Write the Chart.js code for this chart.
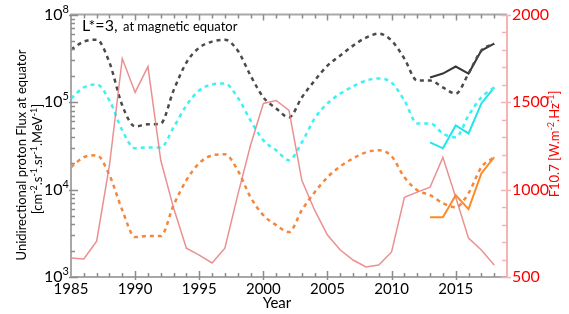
<!DOCTYPE html>
<html>
<head>
<meta charset="utf-8">
<script src="https://cdn.jsdelivr.net/npm/chart.js@4.4.0/dist/chart.umd.min.js"></script>
<style>
  html, body { margin: 0; padding: 0; background: #fff; }
  #wrap { width: 569px; height: 314px; }
</style>
</head>
<body>
<div id="wrap"><canvas id="chart" width="569" height="314"></canvas></div>
<script>
// --- data ---
const years = [1985, 1986, 1987, 1988, 1989, 1990, 1991, 1992, 1993, 1994, 1995, 1996,
               1997, 1998, 1999, 2000, 2001, 2002, 2003, 2004, 2005, 2006, 2007, 2008,
               2009, 2010, 2011, 2012, 2013, 2014, 2015, 2016, 2017, 2018];
const recentYears = [2013, 2014, 2015, 2016, 2017, 2018];

// model flux (dashed), left axis
const fluxBlackModel = [3.98e5, 4.91e5, 5.17e5, 2.83e5, 9.15e4, 5.27e4, 5.56e4, 5.70e4, 1.36e5, 2.83e5, 4.19e5, 4.91e5,
                        5.17e5, 3.88e5, 2.01e5, 1.13e5, 8.45e4, 6.67e4, 1.13e5, 1.76e5, 2.61e5, 3.40e5, 4.42e5, 5.45e5,
                        6.06e5, 5.04e5, 3.14e5, 1.76e5, 1.76e5, 1.47e5, 1.25e5, 2.12e5, 3.88e5, 4.66e5];
const fluxCyanModel = [1.10e5, 1.47e5, 1.59e5, 1.04e5, 4.74e4, 2.96e4, 3.03e4, 3.03e4, 5.13e4, 9.15e4, 1.36e5, 1.59e5,
                       1.63e5, 1.13e5, 6.17e4, 3.65e4, 2.81e4, 2.16e4, 3.46e4, 6.50e4, 9.64e4, 1.25e5, 1.51e5, 1.76e5,
                       1.86e5, 1.67e5, 1.04e5, 5.70e4, 5.70e4, 4.38e4, 3.95e4, 7.03e4, 1.13e5, 1.47e5];
const fluxOrangeModel = [1.80e4, 2.34e4, 2.46e4, 1.46e4, 5.81e3, 2.86e3, 2.94e3, 2.94e3, 6.62e3, 1.28e4, 2.00e4, 2.46e4,
                         2.53e4, 1.66e4, 8.17e3, 5.09e3, 3.92e3, 3.26e3, 5.81e3, 9.31e3, 1.38e4, 1.84e4, 2.27e4, 2.66e4,
                         2.81e4, 2.40e4, 1.38e4, 9.82e3, 8.61e3, 6.98e3, 6.28e3, 9.08e3, 1.80e4, 2.34e4];

// measured flux (solid), left axis
const fluxBlackObs = [1.91e5, 2.12e5, 2.55e5, 2.12e5, 3.88e5, 4.66e5];
const fluxCyanObs = [3.46e4, 2.96e4, 5.41e4, 4.38e4, 9.64e4, 1.47e5];
const fluxOrangeObs = [4.83e3, 4.83e3, 8.61e3, 5.96e3, 1.53e4, 2.34e4];

// F10.7, right axis
const f107 = [608, 603, 705, 1139, 1749, 1555, 1703, 1167, 894, 665, 625, 580,
              665, 968, 1253, 1492, 1509, 1452, 1053, 882, 740, 654, 597, 557,
              568, 643, 956, 985, 1013, 1184, 956, 722, 654, 568];

// axes
const xTickYears = [1985, 1990, 1995, 2000, 2005, 2010, 2015];
const leftTickValues = [1e3, 1e4, 1e5, 1e6];
const leftTickExps = ['3', '4', '5', '8'];
const rightTickValues = [500, 1000, 1500, 2000];

const FONT = 'Lato, "Open Sans", sans-serif';

const pts = (xs, ys) => xs.map((x, i) => ({ x: x, y: ys[i] }));

// draws text with superscript parts: parts = [[text, isSup], ...]
function drawRich(ctx, parts, x, y, size, align) {
    const supSize = Math.round(size * 0.66);
    let total = 0;
    parts.forEach(p => {
        ctx.font = (p[1] ? supSize : size) + 'px ' + FONT;
        total += ctx.measureText(p[0]).width;
    });
    let cx = align === 'center' ? x - total / 2 : (align === 'right' ? x - total : x);
    ctx.textAlign = 'left';
    ctx.textBaseline = 'alphabetic';
    parts.forEach(p => {
        ctx.font = (p[1] ? supSize : size) + 'px ' + FONT;
        ctx.fillText(p[0], cx, p[1] ? y - size * 0.42 : y);
        cx += ctx.measureText(p[0]).width;
    });
}

const axisDecor = {
    id: 'axisDecor',
    afterDraw(chart) {
        const { ctx, chartArea: a, scales } = chart;
        const x = scales.x, yl = scales.y, yr = scales.y2;
        ctx.save();

        // gray frame: left, top, bottom
        ctx.strokeStyle = '#a8a8a8';
        ctx.lineWidth = 2;
        ctx.beginPath();
        ctx.moveTo(a.left, a.bottom); ctx.lineTo(a.left, a.top); ctx.lineTo(a.right, a.top);
        ctx.moveTo(a.left, a.bottom); ctx.lineTo(a.right, a.bottom);
        ctx.stroke();

        // year ticks, top and bottom
        ctx.lineWidth = 1.5;
        ctx.strokeStyle = '#8c8c8c';
        ctx.beginPath();
        for (let yv = 1986; yv <= 2018; yv++) {
            const px = Math.round(x.getPixelForValue(yv)) + 0.5;
            const major = xTickYears.includes(yv);
            ctx.moveTo(px, a.bottom + (major ? 3 : 0)); ctx.lineTo(px, a.bottom - (major ? 6 : 4));
            ctx.moveTo(px, a.top); ctx.lineTo(px, a.top + (major ? 6 : 4));
        }
        ctx.stroke();

        // left log ticks
        ctx.beginPath();
        for (let e = 3; e <= 5; e++) {
            for (let m = 2; m <= 9; m++) {
                const py = Math.round(yl.getPixelForValue(m * Math.pow(10, e))) + 0.5;
                ctx.moveTo(a.left, py); ctx.lineTo(a.left + 4, py);
            }
        }
        leftTickValues.forEach(v => {
            const py = Math.round(yl.getPixelForValue(v)) + 0.5;
            ctx.moveTo(a.left - 2, py); ctx.lineTo(a.left + 7, py);
        });
        ctx.stroke();

        // right axis (pink) with ticks every 100
        ctx.strokeStyle = '#f2b4b4';
        ctx.lineWidth = 2;
        ctx.beginPath();
        ctx.moveTo(a.right, a.top); ctx.lineTo(a.right, a.bottom);
        ctx.stroke();
        ctx.lineWidth = 1.5;
        ctx.beginPath();
        for (let v = 500; v <= 2000; v += 100) {
            const py = Math.round(yr.getPixelForValue(v)) + 0.5;
            const major = rightTickValues.includes(v);
            ctx.moveTo(a.right - (major ? 6 : 5), py); ctx.lineTo(a.right + (major ? 4 : 0), py);
        }
        ctx.stroke();

        // left tick labels 10^n
        ctx.fillStyle = '#000';
        leftTickValues.forEach((v, i) => {
            const py = yl.getPixelForValue(v);
            drawRich(ctx, [['10', false], [leftTickExps[i], true]], a.left - 2, py + 5, 16, 'right');
        });

        // left axis title
        ctx.save();
        ctx.translate(21, 155);
        ctx.rotate(-Math.PI / 2);
        drawRich(ctx, [['Unidirectional proton Flux at equator', false]], 0, 5, 13, 'center');
        ctx.restore();
        ctx.save();
        ctx.translate(37, 159);
        ctx.rotate(-Math.PI / 2);
        drawRich(ctx, [['[cm', false], ['-2', true], ['.s', false], ['-1', true], ['.sr', false],
                       ['-1', true], ['.MeV', false], ['-1', true], [']', false]], 0, 5, 13, 'center');
        ctx.restore();

        // right axis title
        ctx.fillStyle = '#ff0000';
        ctx.save();
        ctx.translate(554, 144);
        ctx.rotate(-Math.PI / 2);
        drawRich(ctx, [['F10.7 [W.m', false], ['-2', true], ['.Hz', false], ['-1', true], [']', false]], 0, 5, 13, 'center');
        ctx.restore();

        // x title
        ctx.fillStyle = '#000';
        drawRich(ctx, [['Year', false]], 277, 308, 15, 'center');

        // annotation
        ctx.font = '16px ' + FONT;
        ctx.fillText('L*=3,', 82, 31);
        ctx.font = '13px ' + FONT;
        ctx.fillText('at magnetic equator', 123, 31);

        ctx.restore();
    }
};

const dashed = (label, data, color) => ({
    label: label, data: data, yAxisID: 'y',
    borderColor: color, borderWidth: 2.5, borderDash: [4, 4],
    cubicInterpolationMode: 'monotone', pointRadius: 0, fill: false
});
const solid = (label, data, color, axis, width) => ({
    label: label, data: data, yAxisID: axis,
    borderColor: color, borderWidth: width, tension: 0, pointRadius: 0, fill: false
});

new Chart(document.getElementById('chart').getContext('2d'), {
    type: 'line',
    data: {
        datasets: [
            solid('F10.7', pts(years, f107), 'rgba(230,125,125,0.85)', 'y2', 1.5),
            dashed('Model E1', pts(years, fluxBlackModel), '#4a4a4a'),
            dashed('Model E2', pts(years, fluxCyanModel), '#3cf2f2'),
            dashed('Model E3', pts(years, fluxOrangeModel), '#f5873a'),
            solid('Obs E1', pts(recentYears, fluxBlackObs), '#383838', 'y', 2),
            solid('Obs E2', pts(recentYears, fluxCyanObs), '#1fe6ee', 'y', 2),
            solid('Obs E3', pts(recentYears, fluxOrangeObs), '#ff8a26', 'y', 2)
        ]
    },
    options: {
        responsive: false,
        animation: false,
        layout: { padding: { top: 14, left: 0, right: 0, bottom: 0 } },
        plugins: { legend: { display: false }, tooltip: { enabled: false } },
        scales: {
            x: {
                type: 'linear', min: 1985, max: 2019,
                afterBuildTicks: s => { s.ticks = xTickYears.map(v => ({ value: v })); },
                afterFit: s => { s.height = 37; },
                grid: { display: false, drawTicks: false },
                border: { display: false },
                ticks: { color: '#000', font: { family: FONT, size: 15 }, padding: 3, maxRotation: 0,
                         callback: v => String(v) }
            },
            y: {
                type: 'logarithmic', position: 'left', min: 1e3, max: 1e6,
                afterBuildTicks: s => { s.ticks = leftTickValues.map(v => ({ value: v })); },
                afterFit: s => { s.width = 71; },
                grid: { display: false, drawTicks: false },
                border: { display: false },
                ticks: { display: false }
            },
            y2: {
                type: 'linear', position: 'right', min: 500, max: 2000,
                afterBuildTicks: s => { s.ticks = rightTickValues.map(v => ({ value: v })); },
                afterFit: s => { s.width = 62; },
                grid: { display: false, drawTicks: false },
                border: { display: false },
                ticks: { color: '#ff0000', font: { family: FONT, size: 16 }, padding: 5,
                         callback: v => String(v) }
            }
        }
    },
    plugins: [axisDecor]
});
</script>
</body>
</html>
